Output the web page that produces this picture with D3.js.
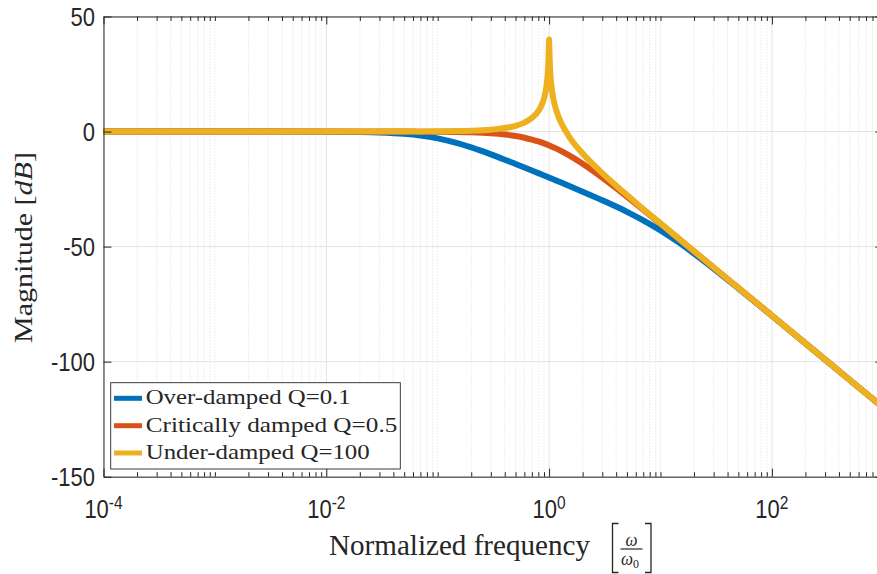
<!DOCTYPE html>
<html>
<head>
<meta charset="utf-8">
<script src="https://cdn.jsdelivr.net/npm/d3@7"></script>
<style>
  html, body { margin: 0; padding: 0; background: #fff; }
  svg { display: block; }
</style>
</head>
<body>
<svg id="chart" width="877" height="574"></svg>
<script>
// ---------- data ----------
const freq = [1e-4, 3e-4, 1e-3, 3e-3, 0.01, 0.02, 0.03, 0.05, 0.07, 0.1, 0.15, 0.2, 0.3, 0.4, 0.5, 0.6, 0.7,
  0.8, 0.85, 0.9, 0.95, 0.97, 0.98, 0.99, 0.995, 1, 1.005, 1.01, 1.02, 1.03, 1.05, 1.1, 1.15, 1.2, 1.3, 1.5,
  2, 3, 4, 5, 7, 10, 15, 20, 30, 50, 100, 200, 500, 1000];
const overDamped = [0, 0, 0, -0.004, -0.042, -0.167, -0.367, -0.952, -1.703, -2.967, -5.06, -6.92, -9.925, -12.23, -14.08, -15.61, -16.92,
  -18.07, -18.59, -19.09, -19.555, -19.736, -19.825, -19.913, -19.956, -20, -20.043, -20.087, -20.172, -20.257, -20.424, -20.83, -21.217, -21.589, -22.29, -23.55,
  -26.12, -29.84, -32.61, -34.88, -38.58, -42.97, -48.61, -52.99, -59.53, -68.13, -80.04, -92.05, -107.96, -120.0];
const criticallyDamped = [0, 0, 0, 0, -0.001, -0.0035, -0.0078, -0.0217, -0.0425, -0.0864, -0.193, -0.341, -0.749, -1.289, -1.938, -2.671, -3.464,
  -4.297, -4.723, -5.153, -5.587, -5.760, -5.847, -5.934, -5.978, -6.021, -6.064, -6.108, -6.195, -6.281, -6.455, -6.888, -7.319, -7.747, -8.595, -10.238,
  -13.98, -20.0, -24.61, -28.30, -33.98, -40.09, -47.08, -52.06, -59.09, -67.96, -80.0, -92.04, -107.96, -120.0];
const underDamped = [0, 0, 0, 0, 0.001, 0.0035, 0.0078, 0.0217, 0.0428, 0.0873, 0.198, 0.354, 0.819, 1.514, 2.499, 3.876, 5.848,
  8.872, 11.134, 14.415, 20.18, 24.45, 27.79, 33.06, 37.02, 40.0, 36.96, 32.96, 27.6, 24.18, 19.74, 13.54, 9.83, 7.13, 3.22, -1.94,
  -9.54, -18.06, -23.52, -27.6, -33.62, -39.91, -47.0, -52.02, -59.08, -67.96, -80.0, -92.04, -107.96, -120.0];

const seriesNames = ["Over-damped Q=0.1", "Critically damped Q=0.5", "Under-damped Q=100"];
const seriesColors = ["#0072BD", "#D95319", "#EDB120"];
const seriesValues = [overDamped, criticallyDamped, underDamped];

const xMajorTicks = [1e-4, 1e-2, 1e0, 1e2];
const xMajorExp = ["-4", "-2", "0", "2"];
const yTicks = [-150, -100, -50, 0, 50];
const yTickLabels = ["-150", "-100", "-50", "0", "50"];

// ---------- layout ----------
const W = 877, H = 574;
const pLeft = 103.5, pTop = 16.5, pBottom = 476.7, pRight = 883.3;
const ink = "#262626";
const SY = 1.15; // vertical text stretch seen in the reference

const svg = d3.select("#chart");
const x = d3.scaleLog().domain([1e-4, 1e3]).range([pLeft, pRight]);
const y = d3.scaleLinear().domain([-150, 50]).range([pBottom, pTop]);

// minor ticks: 2..9 per decade, plus odd decades
const xMinorTicks = [];
for (let d = -4; d <= 2; d++) {
  const base = Math.pow(10, d);
  if (!xMajorTicks.some(t => Math.abs(t - base) / base < 1e-9)) xMinorTicks.push(base);
  for (let k = 2; k <= 9; k++) xMinorTicks.push(k * base);
}

// ---------- grid ----------
const grid = svg.append("g");
grid.selectAll("line.minor").data(xMinorTicks).join("line")
  .attr("x1", d => x(d)).attr("x2", d => x(d)).attr("y1", pTop).attr("y2", pBottom)
  .attr("stroke", "#d6d6d6").attr("stroke-width", 0.8).attr("stroke-dasharray", "1,2");
grid.selectAll("line.majx").data(xMajorTicks).join("line")
  .attr("x1", d => x(d)).attr("x2", d => x(d)).attr("y1", pTop).attr("y2", pBottom)
  .attr("stroke", "#e3e3e3").attr("stroke-width", 1);
grid.selectAll("line.majy").data(yTicks).join("line")
  .attr("x1", pLeft).attr("x2", W + 10).attr("y1", d => y(d)).attr("y2", d => y(d))
  .attr("stroke", "#e3e3e3").attr("stroke-width", 1);

// ---------- curves ----------
const line = d3.line().x(d => x(d[0])).y(d => y(d[1])).curve(d3.curveMonotoneX);
seriesValues.forEach((vals, i) => {
  svg.append("path")
    .datum(freq.map((f, j) => [f, vals[j]]))
    .attr("d", line)
    .attr("fill", "none")
    .attr("stroke", seriesColors[i])
    .attr("stroke-width", 6)
    .attr("stroke-linejoin", "round")
    .attr("stroke-linecap", "butt");
});

// ---------- axes (ticks inward, box) ----------
const axB = svg.append("g").attr("transform", `translate(0,${pBottom})`)
  .call(d3.axisBottom(x).tickValues(xMajorTicks).tickSizeInner(-8).tickSizeOuter(0).tickFormat(""));
const axBm = svg.append("g").attr("transform", `translate(0,${pBottom})`)
  .call(d3.axisBottom(x).tickValues(xMinorTicks).tickSizeInner(-4.5).tickSizeOuter(0).tickFormat(""));
const axT = svg.append("g").attr("transform", `translate(0,${pTop})`)
  .call(d3.axisTop(x).tickValues(xMajorTicks).tickSizeInner(-8).tickSizeOuter(0).tickFormat(""));
const axTm = svg.append("g").attr("transform", `translate(0,${pTop})`)
  .call(d3.axisTop(x).tickValues(xMinorTicks).tickSizeInner(-4.5).tickSizeOuter(0).tickFormat(""));
const axL = svg.append("g").attr("transform", `translate(${pLeft},0)`)
  .call(d3.axisLeft(y).tickValues(yTicks).tickSizeInner(-8).tickSizeOuter(0).tickFormat(""));
const axR = svg.append("g").attr("transform", `translate(${pRight},0)`)
  .call(d3.axisRight(y).tickValues(yTicks).tickSizeInner(-8).tickSizeOuter(0).tickFormat(""));
[axB, axBm, axT, axTm, axL, axR].forEach(g => {
  g.selectAll(".domain").attr("stroke", ink).attr("stroke-width", 1);
  g.selectAll(".tick line").attr("stroke", ink).attr("stroke-width", 1);
});
[axBm, axTm].forEach(g => g.select(".domain").remove());

// ---------- tick labels ----------
const tickFont = "'Liberation Sans', Arial, Helvetica, sans-serif";
xMajorTicks.forEach((t, i) => {
  const tx = svg.append("text")
    .attr("transform", `translate(${x(t)},518) scale(1,${SY})`)
    .attr("text-anchor", "middle")
    .attr("font-family", tickFont).attr("font-size", 22).attr("fill", ink);
  tx.append("tspan").text("10");
  tx.append("tspan").attr("dy", -7.5).attr("font-size", 15.5).text(xMajorExp[i]);
});
yTicks.forEach((t, i) => {
  svg.append("text")
    .attr("transform", `translate(95,${y(t) + 9}) scale(1,${SY})`)
    .attr("text-anchor", "end")
    .attr("font-family", tickFont).attr("font-size", 22).attr("fill", ink)
    .text(yTickLabels[i]);
});

// ---------- axis labels ----------
const serif = "'Liberation Serif', 'Times New Roman', serif";
svg.append("text")
  .attr("transform", `translate(329,555) scale(1,${SY})`)
  .attr("font-family", serif).attr("font-size", 25).attr("fill", ink)
  .attr("textLength", 261).attr("lengthAdjust", "spacingAndGlyphs")
  .text("Normalized frequency");
// bracketed fraction  [ ω / ω0 ]
svg.append("path").attr("d", "M618.5,523.5 H612.5 V572.5 H618.5")
  .attr("fill", "none").attr("stroke", ink).attr("stroke-width", 1.3);
svg.append("path").attr("d", "M645,523.5 H651 V572.5 H645")
  .attr("fill", "none").attr("stroke", ink).attr("stroke-width", 1.3);
svg.append("text")
  .attr("transform", `translate(631.5,545.5) scale(1,1.1)`)
  .attr("text-anchor", "middle").attr("font-family", serif).attr("font-style", "italic")
  .attr("font-size", 17).attr("fill", ink).text("ω");
svg.append("line").attr("x1", 620.5).attr("x2", 642.5).attr("y1", 549).attr("y2", 549)
  .attr("stroke", ink).attr("stroke-width", 1.2);
const den = svg.append("text")
  .attr("transform", `translate(621,564.5) scale(1,1.1)`)
  .attr("font-family", serif).attr("font-size", 17).attr("fill", ink);
den.append("tspan").attr("font-style", "italic").text("ω");
den.append("tspan").attr("font-size", 12).attr("dy", 3).text("0");

const yl = svg.append("text")
  .attr("transform", `translate(31.5,${(152 + 343) / 2}) rotate(-90)`)
  .attr("text-anchor", "middle")
  .attr("font-family", serif).attr("font-size", 25).attr("fill", ink)
  .attr("textLength", 191).attr("lengthAdjust", "spacingAndGlyphs");
yl.append("tspan").text("Magnitude [");
yl.append("tspan").attr("font-style", "italic").text("dB");
yl.append("tspan").text("]");

// ---------- legend ----------
const lg = svg.append("g");
lg.append("rect").attr("x", 110.7).attr("y", 382.7).attr("width", 289.6).attr("height", 86.3)
  .attr("fill", "#fff").attr("stroke", ink).attr("stroke-width", 0.9);
const rowBase = [404.3, 431.7, 459];
const rowLen = [205, 251.6, 224];
seriesNames.forEach((name, i) => {
  lg.append("line").attr("x1", 114).attr("x2", 142)
    .attr("y1", rowBase[i] - 6).attr("y2", rowBase[i] - 6)
    .attr("stroke", seriesColors[i]).attr("stroke-width", 5);
  lg.append("text")
    .attr("transform", `translate(145.7,${rowBase[i]}) scale(1,${SY})`)
    .attr("font-family", serif).attr("font-size", 19).attr("fill", ink)
    .attr("textLength", rowLen[i]).attr("lengthAdjust", "spacingAndGlyphs")
    .text(name);
});
</script>
</body>
</html>
